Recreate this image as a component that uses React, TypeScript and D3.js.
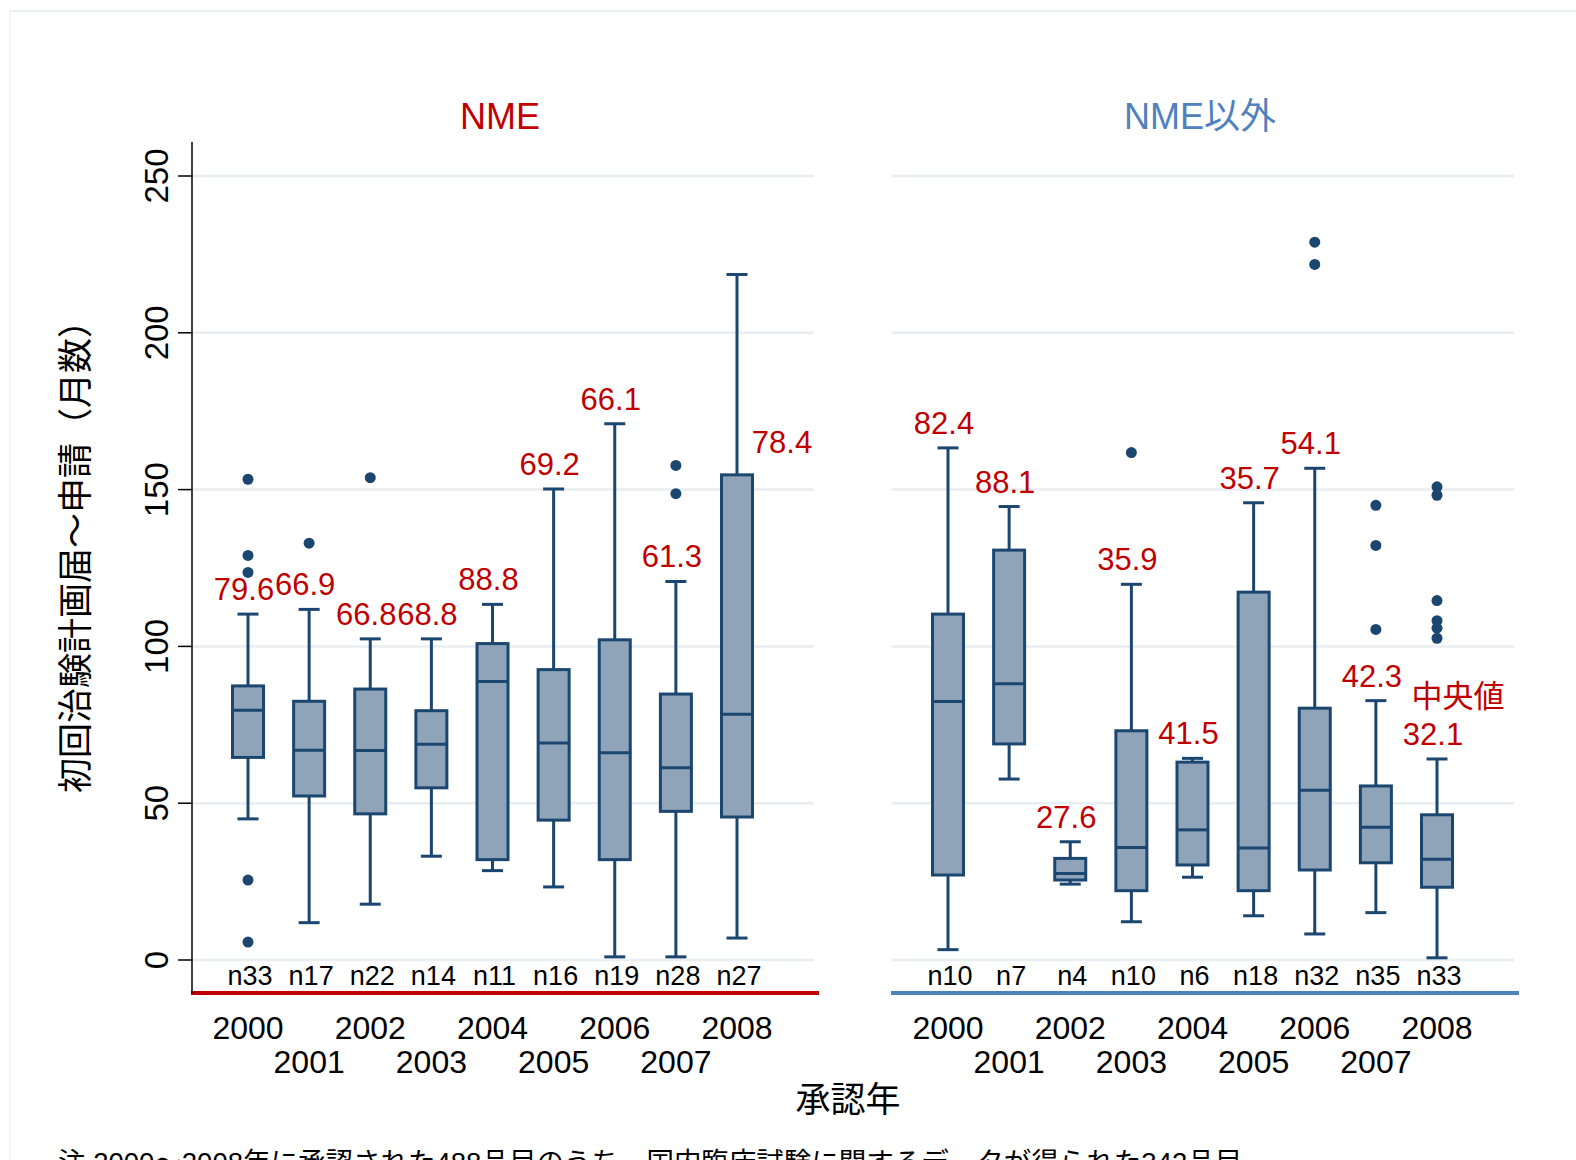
import * as d3 from "d3";

const years = ["2000", "2001", "2002", "2003", "2004", "2005", "2006", "2007", "2008"];

// NME
const nmeN = [33, 17, 22, 14, 11, 16, 19, 28, 27];
const nmeLo = [45.0, 11.9, 17.8, 33.1, 28.5, 23.3, 1.0, 1.0, 7.0];
const nmeQ1 = [64.6, 52.3, 46.6, 54.9, 32.0, 44.6, 32.0, 47.4, 45.6];
const nmeMed = [79.6, 66.9, 66.8, 68.8, 88.8, 69.2, 66.1, 61.3, 78.4];
const nmeQ3 = [87.4, 82.5, 86.4, 79.5, 100.9, 92.6, 102.1, 84.8, 154.7];
const nmeHi = [110.3, 111.8, 102.4, 102.4, 113.4, 150.2, 171.0, 120.7, 218.6];
const nmeOut = [[153.3, 129.0, 123.6, 25.5, 5.7], [132.9], [153.8], [], [], [], [], [157.7, 148.7], []];

// NME以外
const othN = [10, 7, 4, 10, 6, 18, 32, 35, 33];
const othLo = [3.3, 57.7, 24.2, 12.2, 26.4, 14.1, 8.3, 15.1, 0.7];
const othQ1 = [27.1, 68.9, 25.5, 22.1, 30.3, 22.1, 28.7, 31.0, 23.2];
const othMed = [82.4, 88.1, 27.6, 35.9, 41.5, 35.7, 54.1, 42.3, 32.1];
const othQ3 = [110.3, 130.7, 32.4, 73.1, 63.1, 117.3, 80.3, 55.5, 46.3];
const othHi = [163.3, 144.6, 37.7, 119.8, 64.3, 145.8, 156.8, 82.7, 64.1];
const othOut = [[], [], [], [161.8], [], [], [228.9, 221.8], [145.0, 132.2, 105.4], [150.9, 148.2, 114.6, 108.2, 105.8, 102.6]];

const yTicks = [0, 50, 100, 150, 200, 250];

const FONT = "'Liberation Sans', Arial, 'Noto Sans CJK JP', sans-serif";
const RED = "#c00000";
const BLUE = "#4f81bd";
const DARK = "#1b4670";
const FILL = "#8fa4b9";
const GRID = "#e8eef1";

const y = d3.scaleLinear().domain([0, 250]).range([960, 176]);
const PW = 622;

type Panel = {
  title: string;
  color: string;
  x0: number;
  n: number[];
  lo: number[];
  q1: number[];
  med: number[];
  q3: number[];
  hi: number[];
  out: number[][];
  note?: string;
};

const panels: Panel[] = [
  { title: "NME", color: RED, x0: 192, n: nmeN, lo: nmeLo, q1: nmeQ1, med: nmeMed, q3: nmeQ3, hi: nmeHi, out: nmeOut },
  { title: "NME以外", color: BLUE, x0: 892, n: othN, lo: othLo, q1: othQ1, med: othMed, q3: othQ3, hi: othHi, out: othOut, note: "中央値" },
];

function PanelView({ p }: { p: Panel }) {
  const x = d3.scalePoint<string>().domain(years).range([p.x0 + 56, p.x0 + 545]);
  const bw = 31;
  const cw = 21;
  return (
    <g>
      {yTicks.map((t) => (
        <line key={t} x1={p.x0} x2={p.x0 + PW} y1={y(t)} y2={y(t)} stroke={GRID} strokeWidth={2.5} />
      ))}
      <text x={p.x0 + PW / 2 - 3} y={129} textAnchor="middle" fontSize={36} fill={p.color} fontFamily={FONT}>{p.title}</text>
      {years.map((yr, i) => {
        const cx = x(yr) as number;
        const longWhisker = p.hi[i] > 200;
        const lx = longWhisker ? cx + 45 : cx - 4;
        const ly = longWhisker ? y(p.q3[i]) - 22 : y(p.hi[i]) - 14;
        const last = i === years.length - 1;
        return (
          <g key={yr}>
            <line x1={cx} x2={cx} y1={y(p.hi[i])} y2={y(p.lo[i])} stroke={DARK} strokeWidth={3} />
            <line x1={cx - cw / 2} x2={cx + cw / 2} y1={y(p.hi[i])} y2={y(p.hi[i])} stroke={DARK} strokeWidth={3} />
            <line x1={cx - cw / 2} x2={cx + cw / 2} y1={y(p.lo[i])} y2={y(p.lo[i])} stroke={DARK} strokeWidth={3} />
            <rect x={cx - bw / 2} y={y(p.q3[i])} width={bw} height={y(p.q1[i]) - y(p.q3[i])} fill={FILL} stroke={DARK} strokeWidth={3} />
            <line x1={cx - bw / 2} x2={cx + bw / 2 + 1} y1={y(p.med[i])} y2={y(p.med[i])} stroke={DARK} strokeWidth={3} />
            {p.out[i].map((o, k) => (
              <circle key={k} cx={cx} cy={y(o)} r={5.5} fill={DARK} />
            ))}
            <text x={lx} y={ly} textAnchor="middle" fontSize={31} fill={RED} fontFamily={FONT}>{p.med[i].toFixed(1)}</text>
            {last && p.note ? (
              <text x={cx + 21} y={ly - 38} textAnchor="middle" fontSize={31} fill={RED} fontFamily={FONT}>{p.note}</text>
            ) : null}
            <text x={cx + 2} y={985} textAnchor="middle" fontSize={27} fill="#000" fontFamily={FONT}>n{p.n[i]}</text>
            <text x={cx} y={i % 2 === 0 ? 1039 : 1073} textAnchor="middle" fontSize={32} fill="#000" fontFamily={FONT}>{yr}</text>
          </g>
        );
      })}
      <line x1={p.x0 - 1} x2={p.x0 + PW + 5} y1={993} y2={993} stroke={p.color} strokeWidth={4} />
    </g>
  );
}

export default function App() {
  return (
    <div>
      <style>{`body{margin:0;overflow:hidden}`}</style>
      <svg width={1576} height={1160} style={{ display: "block", background: "#fff" }}>
        <line x1={10} x2={1576} y1={11} y2={11} stroke="#e6eaed" strokeWidth={1.5} />
        <line x1={10} x2={10} y1={11} y2={1160} stroke="#eef1f3" strokeWidth={1.5} />
        {panels.map((p) => (
          <PanelView key={p.title} p={p} />
        ))}
        <line x1={192} x2={192} y1={142} y2={993} stroke="#000" strokeWidth={1.5} />
        {yTicks.map((t) => (
          <g key={t}>
            <line x1={178} x2={192} y1={y(t)} y2={y(t)} stroke="#000" strokeWidth={1.5} />
            <text transform={`translate(168,${y(t)}) rotate(-90)`} textAnchor="middle" fontSize={33} fill="#000" fontFamily={FONT}>{t}</text>
          </g>
        ))}
        <text transform="translate(88,548) rotate(-90)" textAnchor="middle" fontSize={35} fill="#000" fontFamily={FONT}>初回治験計画届～申請（月数）</text>
        <text x={848} y={1112} textAnchor="middle" fontSize={35} fill="#000" fontFamily={FONT}>承認年</text>
        <text x={58} y={1172} fontSize={27.5} fill="#000" fontFamily={FONT}>注 2000～2008年に承認された488品目のうち、国内臨床試験に関するデータが得られた342品目</text>
      </svg>
    </div>
  );
}
